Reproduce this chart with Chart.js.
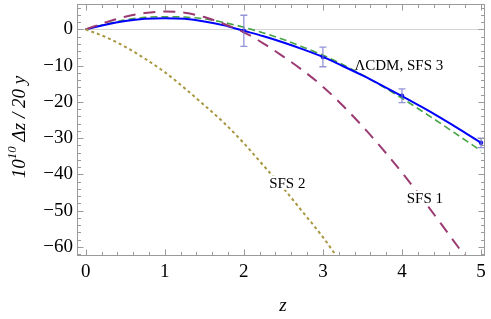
<!DOCTYPE html>
<html>
<head>
<meta charset="utf-8">
<script src="https://cdn.jsdelivr.net/npm/chart.js@4.4.1/dist/chart.umd.min.js"></script>
<style>
html,body{margin:0;padding:0;background:#fff;}
#wrap{width:491px;height:319px;position:relative;}
</style>
</head>
<body>
<div id="wrap"><canvas id="c" width="491" height="319"></canvas></div>
<script>
// ---- data ----
const zGrid = [0,0.25,0.5,0.75,1,1.25,1.5,1.75,2,2.25,2.5,2.75,3,3.25,3.5,3.75,4,4.25,4.5,4.75,5];
const lcdm  = [0,1.3,2.3,2.9,3.1,2.9,2.2,1.1,-0.4,-1.9,-3.6,-5.5,-7.6,-10.1,-12.7,-15.5,-18.4,-21.4,-24.55,-27.85,-31.3];
const sfs3  = [0,1.4,2.6,3.3,3.5,3.4,2.9,1.9,0.6,-1.0,-2.8,-4.9,-7.1,-9.7,-12.6,-15.7,-19.0,-22.5,-26.1,-29.8,-33.5];
const sfs1  = [0,1.9,3.5,4.5,4.9,4.6,3.4,1.5,-0.8,-3.9,-7.5,-11.4,-15.8,-21.0,-26.7,-32.9,-39.5,-46.5,-53.8,-61.2,-68.5];
const sfs2Z = [0,0.25,0.5,0.75,1,1.25,1.5,1.75,2,2.25,2.5,2.75,3,3.25];
const sfs2  = [0,-2.1,-4.8,-8.1,-11.8,-16.2,-20.9,-25.8,-31.4,-37.6,-43.8,-50.5,-57.3,-65.0];
const obsZ   = [2,3,4,5];
const obsVal = [-0.4,-7.6,-18.3,-31.3];
const obsErr = [4.3,2.7,1.9,1.3];
const xTicks = [0,1,2,3,4,5];
const yTicks = [0,-10,-20,-30,-40,-50,-60];
const xTickLabels = ['0','1','2','3','4','5'];
const yTickLabels = ['0','\u221210','\u221220','\u221230','\u221240','\u221250','\u221260'];
const curveLabels = [
  {text:'\u039BCDM, SFS 3', z:3.96, v:-9.9, bg:false},
  {text:'SFS 2', z:2.55, v:-42.3, bg:true},
  {text:'SFS 1', z:4.29, v:-46.5, bg:true}
];

const toPts = (xs, ys) => xs.map((x,i)=>({x:x, y:ys[i]}));
const serif = "'Liberation Serif','Times New Roman',serif";

const xMinor = []; for (let i=0;i<=25;i++) xMinor.push(+(i*0.2).toFixed(2));
const yMinor = []; for (let v=-62; v<=6; v+=2) yMinor.push(v);

const framePlugin = {
  id:'frame',
  beforeDatasetsDraw(chart){
    const {ctx, chartArea:a, scales:{x,y}} = chart;
    ctx.save();
    ctx.strokeStyle = '#d4d4d4'; ctx.lineWidth = 1;
    const y0 = Math.round(y.getPixelForValue(0))+0.5;
    ctx.beginPath(); ctx.moveTo(a.left,y0); ctx.lineTo(a.right,y0); ctx.stroke();
    ctx.restore();
  },
  afterDatasetsDraw(chart){
    const {ctx, chartArea:a, scales:{x,y}} = chart;
    ctx.save();
    // error bars
    ctx.strokeStyle = 'rgba(120,120,205,0.8)'; ctx.lineWidth = 1.3;
    obsZ.forEach((z,i)=>{
      const px = x.getPixelForValue(z);
      const top = y.getPixelForValue(obsVal[i]+obsErr[i]);
      const bot = y.getPixelForValue(obsVal[i]-obsErr[i]);
      ctx.beginPath();
      ctx.moveTo(px,top); ctx.lineTo(px,bot);
      ctx.moveTo(px-3.5,top); ctx.lineTo(px+3.5,top);
      ctx.moveTo(px-3.5,bot); ctx.lineTo(px+3.5,bot);
      ctx.stroke();
    });
    // curve labels
    ctx.font = '15px ' + serif;
    ctx.textAlign = 'center'; ctx.textBaseline = 'middle';
    curveLabels.forEach(l=>{
      const px = x.getPixelForValue(l.z), py = y.getPixelForValue(l.v);
      const w = ctx.measureText(l.text).width;
      if (l.bg){ ctx.fillStyle='#fff'; ctx.fillRect(px-w/2-1, py-7, w+2, 14); }
      ctx.fillStyle = '#000';
      ctx.fillText(l.text, px, py+1);
    });
    // frame
    ctx.strokeStyle = '#9a9a9a'; ctx.lineWidth = 1;
    ctx.strokeRect(Math.round(a.left)+0.5, Math.round(a.top)+0.5, Math.round(a.right-a.left)-1, Math.round(a.bottom-a.top)-1);
    ctx.beginPath();
    const L = Math.round(a.left)+0.5, R = Math.round(a.right)-0.5, T = Math.round(a.top)+0.5, B = Math.round(a.bottom)-0.5;
    xMinor.forEach(v=>{
      const major = Math.abs(v-Math.round(v))<1e-6;
      const len = major?6:3.5;
      const px = Math.round(x.getPixelForValue(v))+0.5;
      ctx.moveTo(px,B); ctx.lineTo(px,B-len);
      ctx.moveTo(px,T); ctx.lineTo(px,T+len);
    });
    yMinor.forEach(v=>{
      const major = v%10===0;
      const len = major?6:3.5;
      const py = Math.round(y.getPixelForValue(v))+0.5;
      ctx.moveTo(L,py); ctx.lineTo(L+len,py);
      ctx.moveTo(R,py); ctx.lineTo(R-len,py);
    });
    ctx.stroke();
    ctx.restore();
  },
  afterDraw(chart){
    const {ctx} = chart;
    ctx.save();
    ctx.fillStyle = '#000';
    // x title
    ctx.font = 'italic 19px ' + serif;
    ctx.textAlign = 'center'; ctx.textBaseline = 'middle';
    ctx.fillText('z', 283, 306);
    // y title, rotated
    ctx.translate(19, 127);
    ctx.rotate(-Math.PI/2);
    const parts = [
      {t:'10', f:'italic 19px '+serif, dy:0},
      {t:'10', f:'italic 13px '+serif, dy:-7},
      {t:' \u0394z / 20 y', f:'italic 19px '+serif, dy:0}
    ];
    let total = 0;
    parts.forEach(p=>{ ctx.font=p.f; p.w = ctx.measureText(p.t).width; total += p.w; });
    let cx = -total/2;
    ctx.textAlign = 'left'; ctx.textBaseline = 'middle';
    parts.forEach(p=>{ ctx.font=p.f; ctx.fillText(p.t, cx, p.dy+1); cx += p.w; });
    ctx.restore();
  }
};

new Chart(document.getElementById('c'), {
  type:'scatter',
  data:{
    datasets:[
      {label:'SFS 2', data:toPts(sfs2Z,sfs2), showLine:true, borderColor:'#a8973f', borderWidth:2, borderDash:[3,3], pointRadius:0, cubicInterpolationMode:'monotone'},
      {label:'SFS 1', data:toPts(zGrid,sfs1), showLine:true, borderColor:'#9b3a72', borderWidth:2, borderDash:[12,8], pointRadius:0, cubicInterpolationMode:'monotone'},
      {label:'LCDM', data:toPts(zGrid,lcdm), showLine:true, borderColor:'#0000ff', borderWidth:2, pointRadius:0, cubicInterpolationMode:'monotone'},
      {label:'SFS 3', data:toPts(zGrid,sfs3), showLine:true, borderColor:'#46a346', borderWidth:1.6, borderDash:[7,4], pointRadius:0, cubicInterpolationMode:'monotone'},
      {label:'obs', data:toPts(obsZ,obsVal), showLine:false, pointRadius:2.3, pointBackgroundColor:'#2222dd', pointBorderWidth:0}
    ]
  },
  options:{
    responsive:false, animation:false,
    layout:{padding:{left:0,right:6,top:2,bottom:0}},
    plugins:{legend:{display:false}, tooltip:{enabled:false}},
    scales:{
      x:{type:'linear', min:-0.11, max:5.05,
         grid:{display:false, drawTicks:false}, border:{display:false},
         afterBuildTicks:s=>{ s.ticks = xTicks.map(v=>({value:v})); },
         afterFit:s=>{ s.height = 63; s.paddingLeft = 0; s.paddingRight = 0; },
         ticks:{color:'#000', font:{family:serif, size:19}, padding:5, maxRotation:0, autoSkip:false,
                callback:(v)=>xTickLabels[xTicks.indexOf(v)] }},
      y:{type:'linear', min:-62.5, max:7,
         grid:{display:false, drawTicks:false}, border:{display:false},
         afterBuildTicks:s=>{ s.ticks = yTicks.map(v=>({value:v})); },
         afterFit:s=>{ s.width = 77; s.paddingTop = 0; s.paddingBottom = 0; },
         ticks:{color:'#000', font:{family:serif, size:19}, padding:4, autoSkip:false,
                callback:(v)=>yTickLabels[yTicks.indexOf(v)] }}
    }
  },
  plugins:[framePlugin]
});
</script>
</body>
</html>
